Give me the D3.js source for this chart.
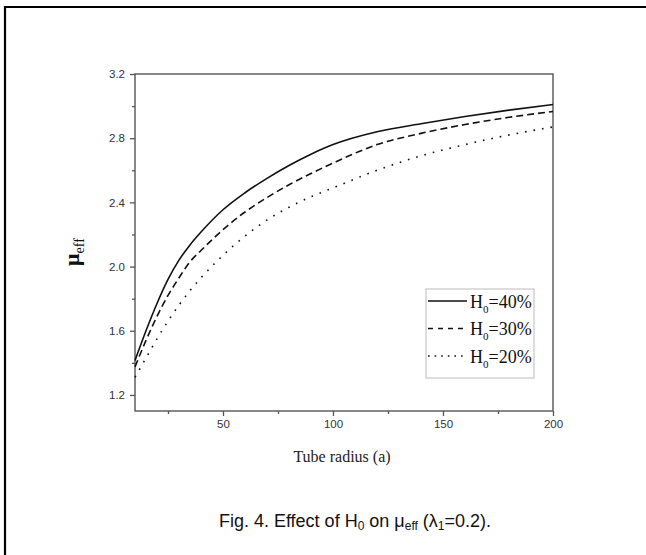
<!DOCTYPE html>
<html><head><meta charset="utf-8">
<script src="https://cdn.jsdelivr.net/npm/d3@7"></script>
<style>body{margin:0;background:#fff}svg{display:block}</style>
</head><body>
<svg id="c" width="646" height="555"></svg>
<script>
const radius = [10, 15, 20, 25, 30, 35, 40, 50, 60, 70, 80, 90, 100, 120, 140, 160, 180, 200];
const h40 = [1.415, 1.60, 1.77, 1.92, 2.04, 2.135, 2.215, 2.354, 2.46, 2.55, 2.63, 2.70, 2.76, 2.84, 2.89, 2.935, 2.975, 3.01];
const h30 = [1.375, 1.54, 1.69, 1.82, 1.93, 2.03, 2.10, 2.23, 2.34, 2.43, 2.51, 2.58, 2.645, 2.76, 2.83, 2.885, 2.93, 2.966];
const h20 = [1.31, 1.43, 1.55, 1.66, 1.76, 1.85, 1.93, 2.07, 2.19, 2.29, 2.37, 2.435, 2.49, 2.60, 2.69, 2.76, 2.82, 2.87];
const seriesNames = ["40%", "30%", "20%"];
const xTicks = [50, 100, 150, 200];
const xMinor = [25, 75, 125, 175];
const yTicks = [1.2, 1.6, 2.0, 2.4, 2.8, 3.2];
const yMinor = [1.4, 1.8, 2.2, 2.6, 3.0];

const svg = d3.select("#c");
const L = 135, R = 553, T = 74, B = 411;
const x = d3.scaleLinear().domain([10, 200]).range([L, R]);
const y = d3.scaleLinear().domain([1.1, 3.2]).range([B, T]);
const axisCol = "#555";

// outer border
svg.append("path").attr("d", "M5,560 L5,7 L650,7").attr("fill", "none").attr("stroke", "#000").attr("stroke-width", 2.2);

// frame
svg.append("rect").attr("x", L).attr("y", T).attr("width", R - L).attr("height", B - T)
  .attr("fill", "none").attr("stroke", axisCol).attr("stroke-width", 1.4);

// x axis
svg.append("g").attr("transform", `translate(0,${B})`)
  .call(d3.axisBottom(x).tickValues(xTicks).tickSize(5).tickPadding(4).tickFormat(d3.format("d")));
svg.append("g").attr("transform", `translate(0,${B})`)
  .call(d3.axisBottom(x).tickValues(xMinor).tickSize(3).tickFormat(""));
// y axis
svg.append("g").attr("transform", `translate(${L},0)`)
  .call(d3.axisLeft(y).tickValues(yTicks).tickSize(5).tickPadding(5).tickFormat(d3.format(".1f")));
svg.append("g").attr("transform", `translate(${L},0)`)
  .call(d3.axisLeft(y).tickValues(yMinor).tickSize(3).tickFormat(""));
svg.selectAll(".domain").remove();
svg.selectAll(".tick line").attr("stroke", axisCol).attr("stroke-width", 1.3);
svg.selectAll(".tick text").attr("fill", "#333").attr("font-family", "Liberation Sans, Arial, sans-serif").attr("font-size", 11.5);

// curves
const styles = [
  {data: h40, dash: null, w: 1.6},
  {data: h30, dash: "7,4", w: 1.6},
  {data: h20, dash: "1.6,7", w: 1.6}
];
const line = d3.line().x((d, i) => x(radius[i])).y(d => y(d)).curve(d3.curveMonotoneX);
styles.forEach(s => {
  svg.append("path").datum(s.data).attr("d", line).attr("fill", "none")
    .attr("stroke", "#111").attr("stroke-width", s.w)
    .attr("stroke-dasharray", s.dash);
});

// axis titles
svg.append("text").attr("x", 342).attr("y", 462).attr("text-anchor", "middle")
  .attr("font-family", "Liberation Serif, Times New Roman, serif").attr("font-size", 16).attr("fill", "#222")
  .text("Tube radius (a)");
const yl = svg.append("text").attr("transform", "translate(79,252) rotate(-90)").attr("text-anchor", "middle")
  .attr("font-family", "Liberation Serif, Times New Roman, serif").attr("fill", "#111").attr("font-weight", "bold");
yl.append("tspan").attr("font-size", 22).text("μ");
yl.append("tspan").attr("font-size", 14).attr("dy", 5).attr("font-weight", "normal").text("eff");

// legend
const lg = svg.append("g");
lg.append("rect").attr("x", 426).attr("y", 289).attr("width", 108).attr("height", 89)
  .attr("fill", "#fff").attr("stroke", "#bbb").attr("stroke-width", 1);
styles.forEach((s, i) => {
  const ly = 301 + i * 27.5;
  lg.append("line").attr("x1", 428).attr("x2", 467).attr("y1", ly).attr("y2", ly)
    .attr("stroke", "#111").attr("stroke-width", s.w).attr("stroke-dasharray", s.dash ? (i === 1 ? "5,5" : "1.6,5") : null);
  const t = lg.append("text").attr("x", 470).attr("y", ly + 6.5)
    .attr("font-family", "Liberation Serif, Times New Roman, serif").attr("font-size", 18).attr("fill", "#111");
  t.append("tspan").text("H");
  t.append("tspan").attr("font-size", 11).attr("dy", 5).text("0");
  t.append("tspan").attr("dy", -5).text("=" + seriesNames[i]);
});

// caption
const cap = svg.append("text").attr("x", 355).attr("y", 527).attr("text-anchor", "middle")
  .attr("font-family", "Liberation Sans, Arial, sans-serif").attr("font-size", 18).attr("fill", "#111");
cap.append("tspan").text("Fig. 4. Effect of H");
cap.append("tspan").attr("font-size", 12).attr("dy", 3).text("0");
cap.append("tspan").attr("dy", -3).text(" on μ");
cap.append("tspan").attr("font-size", 12).attr("dy", 3).text("eff");
cap.append("tspan").attr("dy", -3).text(" (λ");
cap.append("tspan").attr("font-size", 12).attr("dy", 3).text("1");
cap.append("tspan").attr("dy", -3).text("=0.2).");
</script>
</body></html>
